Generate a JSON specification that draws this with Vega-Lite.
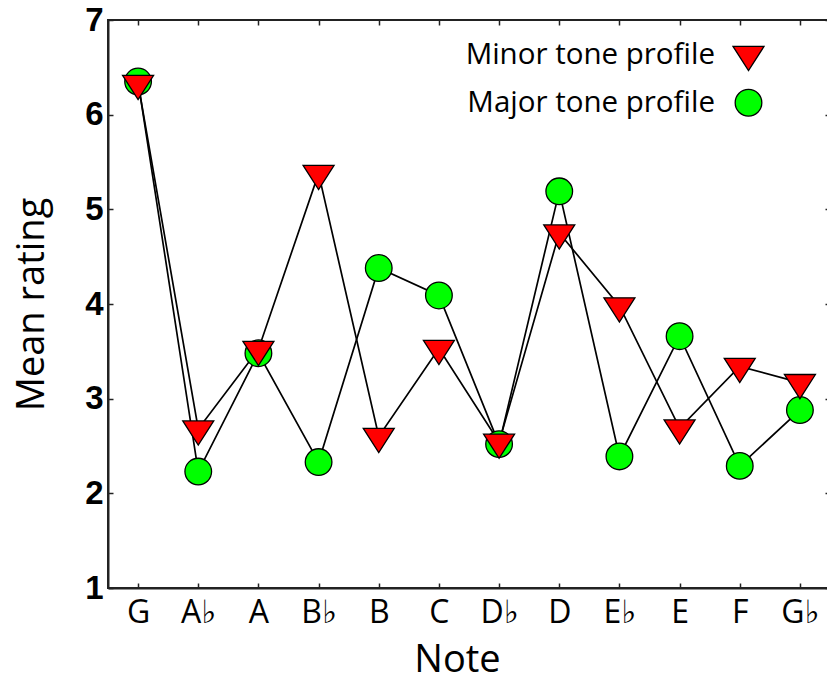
{
  "$schema": "https://vega.github.io/schema/vega-lite/v6.json",
  "width": 722,
  "height": 568,
  "autosize": {"type": "none"},
  "padding": {"left": 108, "top": 20, "right": 0, "bottom": 88},
  "background": "white",
  "config": {
    "view": {"stroke": "#222", "strokeWidth": 2},
    "font": "Open Sans"
  },
  "data": {
    "values": [
      {"note": "G", "profile": "Major tone profile", "rating": 6.35},
      {"note": "A♭", "profile": "Major tone profile", "rating": 2.23},
      {"note": "A", "profile": "Major tone profile", "rating": 3.48},
      {"note": "B♭", "profile": "Major tone profile", "rating": 2.33},
      {"note": "B", "profile": "Major tone profile", "rating": 4.38},
      {"note": "C", "profile": "Major tone profile", "rating": 4.09},
      {"note": "D♭", "profile": "Major tone profile", "rating": 2.52},
      {"note": "D", "profile": "Major tone profile", "rating": 5.19},
      {"note": "E♭", "profile": "Major tone profile", "rating": 2.39},
      {"note": "E", "profile": "Major tone profile", "rating": 3.66},
      {"note": "F", "profile": "Major tone profile", "rating": 2.29},
      {"note": "G♭", "profile": "Major tone profile", "rating": 2.88},
      {"note": "G", "profile": "Minor tone profile", "rating": 6.33},
      {"note": "A♭", "profile": "Minor tone profile", "rating": 2.68},
      {"note": "A", "profile": "Minor tone profile", "rating": 3.52},
      {"note": "B♭", "profile": "Minor tone profile", "rating": 5.38},
      {"note": "B", "profile": "Minor tone profile", "rating": 2.6},
      {"note": "C", "profile": "Minor tone profile", "rating": 3.53},
      {"note": "D♭", "profile": "Minor tone profile", "rating": 2.54},
      {"note": "D", "profile": "Minor tone profile", "rating": 4.75},
      {"note": "E♭", "profile": "Minor tone profile", "rating": 3.98},
      {"note": "E", "profile": "Minor tone profile", "rating": 2.69},
      {"note": "F", "profile": "Minor tone profile", "rating": 3.34},
      {"note": "G♭", "profile": "Minor tone profile", "rating": 3.17}
    ]
  },
  "layer": [
    {
      "mark": {"type": "line", "color": "black", "strokeWidth": 1.7},
      "encoding": {
        "x": {
          "field": "note", "type": "ordinal",
          "sort": ["G", "A♭", "A", "B♭", "B", "C", "D♭", "D", "E♭", "E", "F", "G♭"],
          "scale": {"type": "point", "padding": 0.5},
          "axis": {
            "orient": "bottom", "title": "Note", "labelAngle": 0,
            "labelFont": "Open Sans, DejaVu Sans", "labelFontSize": 32, "labelColor": "black",
            "labelPadding": 14, "tickSize": -5, "tickColor": "#222", "tickWidth": 1.5,
            "domainColor": "#222", "domainWidth": 2,
            "titleFont": "Open Sans", "titleFontSize": 38, "titleFontWeight": "normal", "titleColor": "black",
            "titleX": 349, "titleY": 83, "titleBaseline": "alphabetic", "titleAnchor": "middle"
          }
        },
        "y": {
          "field": "rating", "type": "quantitative",
          "scale": {"domain": [1, 7], "nice": false, "zero": false},
          "axis": {
            "orient": "left", "title": "Mean rating", "values": [1, 2, 3, 4, 5, 6, 7],
            "grid": false, "labelFont": "Liberation Sans", "labelFontWeight": "bold",
            "labelFontSize": 33, "labelColor": "black", "labelPadding": 10,
            "tickSize": -5, "tickColor": "#222", "tickWidth": 1.5,
            "domainColor": "#222", "domainWidth": 2,
            "titleFont": "Open Sans", "titleFontSize": 38, "titleFontWeight": "normal", "titleColor": "black",
            "titleX": -65, "titleY": 284, "titleBaseline": "alphabetic", "titleAlign": "center", "titleAngle": -90
          }
        },
        "detail": {"field": "profile"}
      }
    },
    {
      "mark": {"type": "point", "filled": true, "stroke": "black", "strokeWidth": 1.3, "opacity": 1},
      "encoding": {
        "x": {
          "field": "note", "type": "ordinal",
          "sort": ["G", "A♭", "A", "B♭", "B", "C", "D♭", "D", "E♭", "E", "F", "G♭"],
          "axis": {"orient": "top", "title": null, "labels": false, "domain": false,
                   "tickSize": -5, "tickColor": "#222", "tickWidth": 1.5}
        },
        "y": {
          "field": "rating", "type": "quantitative",
          "axis": {"orient": "right", "title": null, "labels": false, "domain": false, "grid": false,
                   "values": [1, 2, 3, 4, 5, 6, 7],
                   "tickSize": -5, "tickColor": "#222", "tickWidth": 1.5}
        },
        "shape": {
          "field": "profile", "type": "nominal",
          "scale": {"domain": ["Minor tone profile", "Major tone profile"], "range": ["M-1,-0.52L1,-0.52L0,1.04Z", "circle"]},
          "legend": {
            "title": null, "orient": "none", "legendX": 624, "legendY": 18,
            "padding": 0, "rowPadding": 12,
            "labelFont": "Open Sans", "labelFontSize": 29.5, "labelColor": "black",
            "labelAlign": "right", "labelOffset": -50, "labelLimit": 400,
            "symbolStrokeColor": "black", "symbolStrokeWidth": 1.3
          }
        },
        "fill": {
          "field": "profile", "type": "nominal",
          "scale": {"domain": ["Minor tone profile", "Major tone profile"], "range": ["#FF0000", "#00FF00"]}
        },
        "size": {
          "field": "profile", "type": "nominal",
          "scale": {"domain": ["Minor tone profile", "Major tone profile"], "range": [961, 710]}
        }
      }
    }
  ]
}
